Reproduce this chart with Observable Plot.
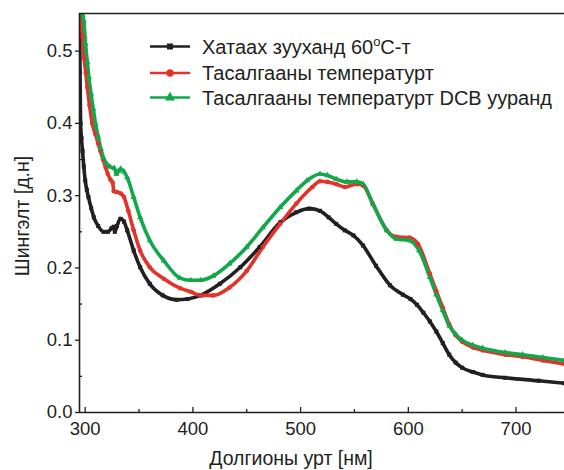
<!DOCTYPE html>
<html>
<head>
<meta charset="utf-8">
<script src="https://cdn.jsdelivr.net/npm/d3@7"></script>
<script src="https://cdn.jsdelivr.net/npm/@observablehq/plot@0.6"></script>
<style>
  html, body { margin: 0; padding: 0; background: #fff; }
  #chart { width: 564px; height: 470px; }
</style>
</head>
<body>
<div id="chart"></div>
<script>
// ---- data ----
const seriesNames = ["Хатаах зууханд 60°C-т", "Тасалгааны температурт", "Тасалгааны температурт DCB ууранд"];

const blackNm  = [294.8, 295.2, 295.7, 296.5, 297.5, 298.7, 300, 301.5, 303, 305.5, 308, 312, 317, 321, 324.5, 326.5, 327.5, 329.5, 332.7, 336, 339, 345, 351, 360, 372, 385, 395, 407, 425, 444, 462, 481, 496, 508, 518, 526, 533, 541, 549, 558, 570, 583, 595, 602, 608, 614, 620, 626, 632, 638, 644, 650, 660, 669, 690, 721, 745];
const blackVal = [0.556, 0.47, 0.40, 0.38, 0.362, 0.34, 0.321, 0.308, 0.298, 0.283, 0.270, 0.258, 0.250, 0.250, 0.255, 0.257, 0.250, 0.258, 0.268, 0.264, 0.252, 0.224, 0.201, 0.178, 0.162, 0.156, 0.157, 0.162, 0.178, 0.201, 0.229, 0.263, 0.277, 0.282, 0.279, 0.270, 0.261, 0.252, 0.245, 0.231, 0.203, 0.176, 0.163, 0.157, 0.149, 0.138, 0.126, 0.112, 0.096, 0.080, 0.069, 0.062, 0.056, 0.052, 0.048, 0.044, 0.0405];

const redNm  = [295, 296, 297.5, 299, 300.5, 302, 304, 306.5, 309.5, 312, 314, 316.5, 319, 321, 323.5, 325.5, 326.5, 329.5, 333, 336, 340, 345, 351, 360, 373, 388, 398, 407, 419, 434, 450, 465, 481, 496, 511, 518, 525, 533, 541, 552, 558, 567, 580, 589, 601, 609, 620, 626, 632, 638, 644, 650, 660, 669, 690, 706, 725, 745];
const redVal = [0.555, 0.54, 0.52, 0.49, 0.47, 0.45, 0.425, 0.40, 0.385, 0.372, 0.362, 0.350, 0.339, 0.330, 0.322, 0.318, 0.306, 0.305, 0.303, 0.298, 0.279, 0.252, 0.224, 0.201, 0.185, 0.172, 0.167, 0.162, 0.162, 0.173, 0.196, 0.229, 0.261, 0.289, 0.312, 0.320, 0.319, 0.316, 0.312, 0.316, 0.314, 0.289, 0.252, 0.243, 0.242, 0.233, 0.192, 0.168, 0.145, 0.122, 0.107, 0.098, 0.090, 0.086, 0.080, 0.077, 0.072, 0.067];

const greenNm  = [296, 297.5, 298.7, 300.3, 302, 303.4, 305.5, 307.5, 309.5, 312, 314.5, 317, 320, 323, 327, 329, 331, 333, 336, 339, 345, 351, 360, 373, 388, 398, 407, 419, 434, 450, 465, 481, 496, 506, 518, 525, 533, 543, 552, 558, 567, 580, 589, 601, 610, 620, 626, 632, 638, 644, 650, 660, 669, 690, 706, 725, 745];
const greenVal = [0.556, 0.55, 0.542, 0.51, 0.485, 0.464, 0.44, 0.42, 0.40, 0.382, 0.365, 0.352, 0.344, 0.340, 0.338, 0.330, 0.334, 0.337, 0.333, 0.325, 0.298, 0.270, 0.238, 0.210, 0.186, 0.183, 0.183, 0.189, 0.206, 0.229, 0.256, 0.284, 0.307, 0.321, 0.330, 0.328, 0.323, 0.319, 0.319, 0.316, 0.289, 0.252, 0.240, 0.238, 0.224, 0.187, 0.163, 0.141, 0.120, 0.108, 0.100, 0.093, 0.089, 0.083, 0.080, 0.076, 0.072];

const xTicks = [300, 400, 500, 600, 700];
const xMinor = [350, 450, 550, 650];
const yTicks = [0.0, 0.1, 0.2, 0.3, 0.4, 0.5];
const yMinor = [0.05, 0.15, 0.25, 0.35, 0.45];
const xTitle = "Долгионы урт [нм]";
const yTitle = "Шингэлт [д.н]";

const colors = ["#231f20", "#e2332b", "#10a84b"];
const symbols = ["square", "circle", "triangle"];

const toRows = (nm, v, s) => nm.map((x, i) => ({x, y: v[i], s}));
const rows = [
  ...toRows(blackNm, blackVal, seriesNames[0]),
  ...toRows(redNm, redVal, seriesNames[1]),
  ...toRows(greenNm, greenVal, seriesNames[2])
];

const font = "'Liberation Sans', Arial, Helvetica, sans-serif";
const xDom = [294.7, 745];
const yDom = [0, 0.552];

const plot = Plot.plot({
  width: 564,
  height: 470,
  marginLeft: 79,
  marginRight: 0,
  marginTop: 13,
  marginBottom: 58,
  style: {fontFamily: font, background: "#fff", color: "#231f20"},
  x: {domain: xDom},
  y: {domain: yDom},
  color: {domain: seriesNames, range: colors},
  symbol: {domain: seriesNames, range: symbols},
  marks: [
    Plot.line(rows, {x: "x", y: "y", z: "s", stroke: "s", strokeWidth: 3.6, curve: "monotone-x", clip: true}),
    Plot.dot(rows, {x: "x", y: "y", symbol: "s", fill: "s", r: 2.3, clip: true}),
    // frame lines
    Plot.ruleX([xDom[0]], {stroke: "#231f20", strokeWidth: 1.6}),
    Plot.ruleY([yDom[0]], {stroke: "#231f20", strokeWidth: 1.6}),
    Plot.ruleY([yDom[1]], {stroke: "#231f20", strokeWidth: 1.6}),
    // x axis
    Plot.axisX({ticks: xTicks, tickSize: 0, tickPadding: 9, tickFormat: d3.format("d"), fontSize: 18.5, label: null}),
    Plot.axisX({ticks: xTicks, tickSize: -5, text: null, label: null, strokeWidth: 1.3}),
    Plot.axisX({ticks: xMinor, tickSize: -3, text: null, label: null, strokeWidth: 1.3}),
    // y axis
    Plot.axisY({ticks: yTicks, tickSize: 4, tickPadding: 3, tickFormat: d3.format(".1f"), fontSize: 18.5, label: null, strokeWidth: 1.3}),
    Plot.axisY({ticks: yMinor, tickSize: -3, text: null, label: null, strokeWidth: 1.3})
  ]
});

const svg = d3.select(plot);
// axis titles
svg.append("text")
  .attr("x", 291).attr("y", 465)
  .attr("text-anchor", "middle")
  .attr("font-family", font).attr("font-size", 19.5).attr("fill", "#231f20")
  .text(xTitle);
svg.append("text")
  .attr("transform", "translate(29,216) rotate(-90)")
  .attr("text-anchor", "middle")
  .attr("font-family", font).attr("font-size", 19.5).attr("fill", "#231f20")
  .text(yTitle);

// legend
const legendY = [46.5, 73, 97.5];
const sym = [d3.symbolSquare, d3.symbolCircle, d3.symbolTriangle];
const symSize = [36, 44, 44];
seriesNames.forEach((name, i) => {
  const g = svg.append("g").attr("transform", `translate(0,${legendY[i]})`);
  g.append("line").attr("x1", 150).attr("x2", 190).attr("y1", 0).attr("y2", 0)
    .attr("stroke", colors[i]).attr("stroke-width", 2.5);
  g.append("path").attr("transform", "translate(170,0)")
    .attr("d", d3.symbol(sym[i], symSize[i])()).attr("fill", colors[i]);
  const t = g.append("text").attr("x", 202).attr("y", 7)
    .attr("text-anchor", "start")
    .attr("font-family", font).attr("font-size", 20).attr("fill", "#231f20");
  if (i === 0) {
    t.append("tspan").text("Хатаах зууханд 60");
    t.append("tspan").attr("font-size", 13).attr("dy", -8).text("o");
    t.append("tspan").attr("dy", 8).text("C-т");
  } else {
    t.text(name);
  }
});

document.getElementById("chart").appendChild(plot);
</script>
</body>
</html>
